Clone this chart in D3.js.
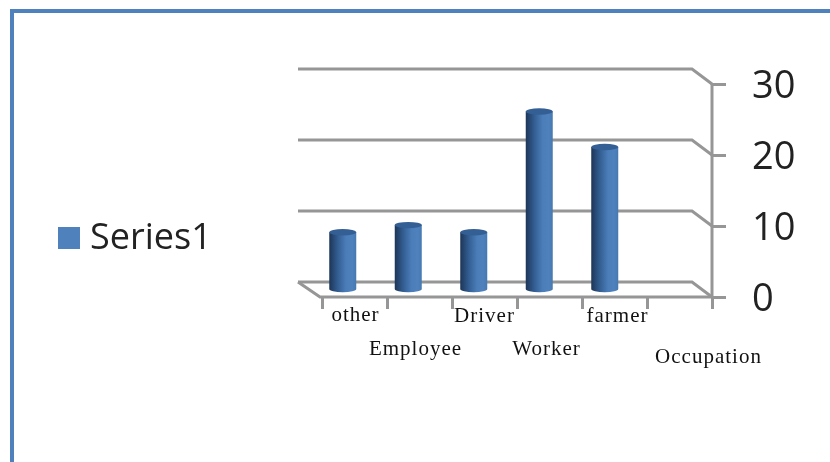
<!DOCTYPE html>
<html>
<head>
<meta charset="utf-8">
<script src="https://cdn.jsdelivr.net/npm/d3@7"></script>
<style>
html,body{margin:0;padding:0;background:#fff;overflow:hidden}
svg{display:block;filter:blur(0.45px)}
</style>
</head>
<body>
<svg id="c" width="830" height="462"></svg>
<script>
const categories = ["other", "Employee", "Driver", "Worker", "farmer", "Occupation"];
const values = [8, 9, 8, 25, 20];
const yTicks = [0, 10, 20, 30];
const seriesName = "Series1";

const svg = d3.select("#c");
const blue = "#4f81bd", grey = "#969696";

// page frame
svg.append("path").attr("d", "M12 462V11H830").attr("fill", "none").attr("stroke", blue).attr("stroke-width", 4);

// scales
const y = d3.scaleLinear().domain([0, 30]).range([297, 84]);
const xFront = d3.scaleBand().domain(categories).range([322, 712]);
const xBars = d3.scaleBand().domain(categories).range([310, 703]);
const xTicks = d3.scaleLinear().domain([0, categories.length]).range([322, 712]);
const depthX = 20, depthY = 15;

// gradient
const g = svg.append("defs").append("linearGradient").attr("id", "cyl");
[[0, "#1d3557"], [0.3, "#315c8f"], [0.62, "#4b7db9"], [0.85, "#4f81bd"], [1, "#4678b0"]]
  .forEach(([o, c]) => g.append("stop").attr("offset", o).attr("stop-color", c));

// back wall gridlines with side slant
const wall = svg.append("g").attr("fill", "none").attr("stroke", grey).attr("stroke-width", 3);
const line = d3.line();
yTicks.forEach(t => {
  wall.append("path").attr("d", line([
    [298, y(t) - depthY],
    [712 - depthX, y(t) - depthY],
    [712, y(t)]
  ]));
});
// floor front edge and left slant
wall.append("path").attr("d", line([[298, y(0) - depthY], [320, y(0)], [712, y(0)]]));

// value axis
const axisY = d3.axisRight(y).tickValues(yTicks).tickSize(14).tickPadding(26);
const ay = svg.append("g").attr("transform", "translate(712,0)").call(axisY);
ay.select(".domain").attr("stroke", grey).attr("stroke-width", 3).attr("d", `M0 ${y(30)}V${y(0)}`);
ay.selectAll(".tick line").attr("stroke", grey).attr("stroke-width", 3);
ay.selectAll("text").attr("font-family", "'Open Sans'").attr("font-size", 38).attr("fill", "#222").attr("dy", "0.36em");

// category axis ticks
const axisX = d3.axisBottom(xTicks).ticks(categories.length).tickSize(12).tickFormat("");
const ax = svg.append("g").attr("transform", `translate(0,${y(0)})`).call(axisX);
ax.select(".domain").remove();
ax.selectAll(".tick line").attr("stroke", grey).attr("stroke-width", 3);

// category labels, staggered in rows
const labelRow = [321, 355, 322, 355, 322, 363];
const labelNudge = [1, -4, 0, -3, 3, 29];
svg.append("g").selectAll("text").data(categories).join("text")
  .attr("x", (d, i) => xFront(d) + xFront.bandwidth() / 2 + labelNudge[i])
  .attr("y", (d, i) => labelRow[i])
  .attr("text-anchor", "middle")
  .attr("font-family", "'Liberation Serif'")
  .attr("font-size", 21)
  .attr("letter-spacing", 1)
  .attr("fill", "#111")
  .text(d => d);

// cylinders
const rx = 13.5, ry = 3.2, baseShift = 8;
const bars = svg.append("g").selectAll("g").data(values).join("g");
bars.append("path")
  .attr("fill", "url(#cyl)")
  .attr("d", (v, i) => {
    const cx = xBars(categories[i]) + xBars.bandwidth() / 2;
    const top = y(v) - baseShift, bot = y(0) - baseShift;
    return `M${cx - rx} ${top}V${bot}A${rx} ${ry} 0 0 0 ${cx + rx} ${bot}V${top}Z`;
  });
bars.append("ellipse")
  .attr("cx", (v, i) => xBars(categories[i]) + xBars.bandwidth() / 2)
  .attr("cy", v => y(v) - baseShift)
  .attr("rx", rx).attr("ry", ry)
  .attr("fill", "#345f94");

// legend
svg.append("rect").attr("x", 58).attr("y", 227).attr("width", 22).attr("height", 22).attr("fill", blue);
svg.append("text").attr("x", 90).attr("y", 249)
  .attr("font-family", "'Open Sans'").attr("font-size", 36).attr("fill", "#222")
  .text(seriesName);
</script>
</body>
</html>
